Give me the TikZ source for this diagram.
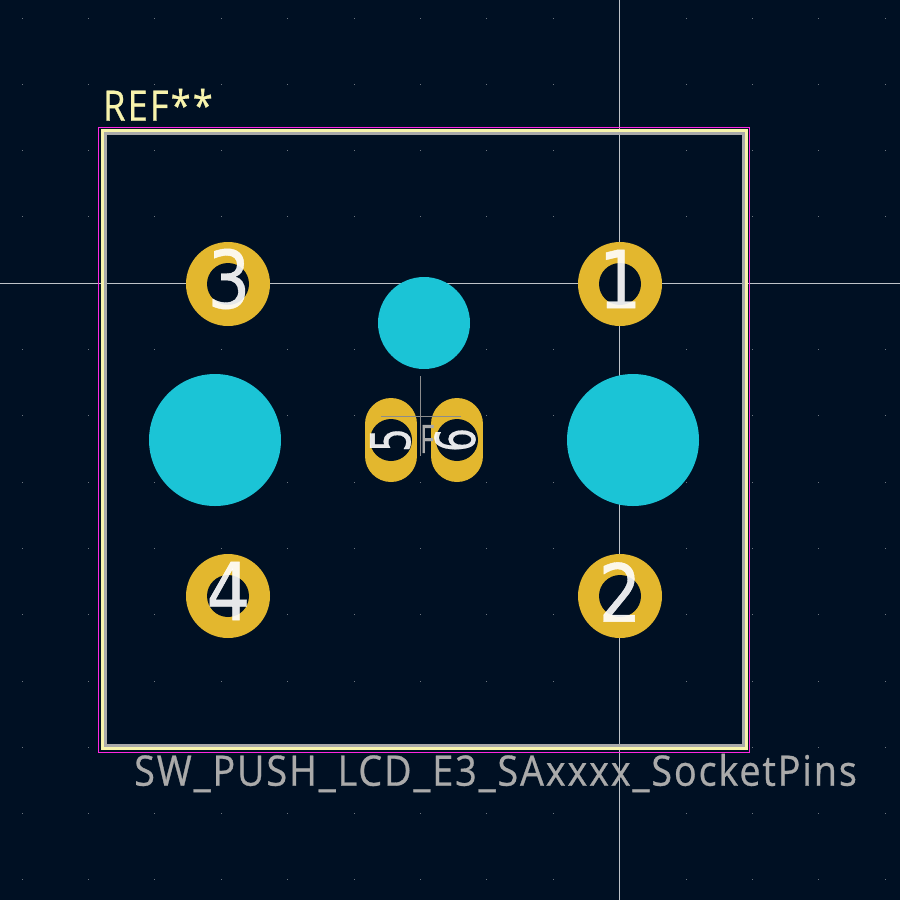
\documentclass[tikz,border=0pt]{standalone}
\usepackage{fontspec}
\usepackage{graphicx}
\setmainfont{Open Sans}
\newfontfamily\txtfont[FakeBold=0.6]{Open Sans}
\newfontfamily\reffont[FakeBold=0.7,LetterSpace=6]{Open Sans}
\newfontfamily\valfont[FakeBold=0.7,LetterSpace=5]{Open Sans}
\newfontfamily\numfont[FakeBold=0.5]{DejaVu Sans}
\definecolor{bgc}{RGB}{0,16,35}
\definecolor{goldc}{RGB}{227,183,46}
\definecolor{cyanc}{RGB}{27,196,214}
\definecolor{yelc}{RGB}{247,243,172}
\definecolor{grayc}{RGB}{170,170,170}
\definecolor{magc}{RGB}{255,38,226}
\definecolor{crossc}{RGB}{190,195,200}
\definecolor{dotc}{RGB}{110,118,128}
\newcommand{\bign}[1]{\scalebox{.84}[1]{#1}}
\newcommand{\smalln}[1]{\scalebox{.68}[1]{#1}}
\tikzset{
  pin/.style={circle,fill=goldc,minimum size=84pt,inner sep=0pt},
  hole/.style={circle,fill=bgc,minimum size=42pt,inner sep=0pt},
  npth/.style={circle,fill=cyanc,inner sep=0pt},
  oval/.style={line width=52pt,line cap=round,draw=goldc},
  num/.style={text=white,opacity=.9,inner sep=0pt,font=\numfont\fontsize{80}{80}\selectfont},
  numsmall/.style={text=white,opacity=.9,inner sep=0pt,font=\numfont\fontsize{55}{55}\selectfont,rotate=90},
}
\begin{document}
\begin{tikzpicture}[x=1pt,y=-1pt]
\useasboundingbox (0,0) rectangle (900,900);
\fill[bgc] (0,0) rectangle (900,900);
% grid
\foreach \i in {0,...,13}\foreach \j in {0,...,13}
  \fill[dotc] ({22+66.4*\i-.5},{18+66.3*\j-.5}) rectangle ++(1,1);
% crosshair
\draw[crossc,line width=.9pt] (0,283) -- (900,283);
\draw[crossc,line width=.9pt] (619.4,0) -- (619.4,900);
% outlines
\draw[yelc,line width=3pt] (102.8,130.6) rectangle (746.8,748.5);
\draw[grayc,line width=3pt] (105.5,133.5) rectangle (743.8,745.5);
\draw[magc,line width=1.2pt] (98.5,127.5) rectangle (749.6,752.3);
% npth
\node[npth,minimum size=132pt] (m1) at (215,440) {};
\node[npth,minimum size=132pt] (m2) at (633,440) {};
\node[npth,minimum size=92pt] (m3) at (424,323) {};
% pads
\node[pin] (p3) at (228,284) {};
\node[pin] (p1) at (620,284) {};
\node[pin] (p4) at (228,596) {};
\node[pin] (p2) at (620,596) {};
\node[hole] at (p3) {};
\node[hole] at (p1) {};
\node[hole] at (p4) {};
\node[hole] at (p2) {};
\coordinate (o5a) at (391,424);
\coordinate (o5b) at (391,456);
\coordinate (o6a) at (457,424);
\coordinate (o6b) at (457,456);
\draw[oval] (o5a) -- (o5b);
\draw[oval] (o6a) -- (o6b);
\node[hole] (h5) at (391,440) {};
\node[hole] (h6) at (457,440) {};
% centre mark
\draw[gray!90,line width=1pt] (420.3,376) -- (420.3,456);
\draw[gray!90,line width=1pt] (381,416.3) -- (461,416.3);
\node[text=grayc,inner sep=0pt,font=\txtfont\fontsize{39}{39}\selectfont] (f) at (427,439) {\scalebox{.7}[1]{F}};
% numbers
\node[num] (n3) at (229,279) {\bign{3}};
\node[num] (n1) at (620,279) {\bign{1}};
\node[num] (n4) at (228.5,591) {\scalebox{.87}[1]{4}};
\node[num] (n2) at (620,592) {\bign{2}};
\node[numsmall] (n5) at (390.5,440) {\smalln{5}};
\node[numsmall] (n6) at (455,440) {\smalln{6}};
% texts
\node[anchor=base west,text=yelc,inner sep=0pt,font=\reffont\fontsize{42}{42}\selectfont] (ref) at (103,120.7) {\scalebox{.86}[1]{REF**}};
\node[anchor=base west,text=grayc,inner sep=0pt,font=\valfont\fontsize{42}{42}\selectfont] (val) at (134,785.7) {\scalebox{.899}[1]{SW\_PUSH\_LCD\_E3\_SAxxxx\_SocketPins}};
\end{tikzpicture}
\end{document}
